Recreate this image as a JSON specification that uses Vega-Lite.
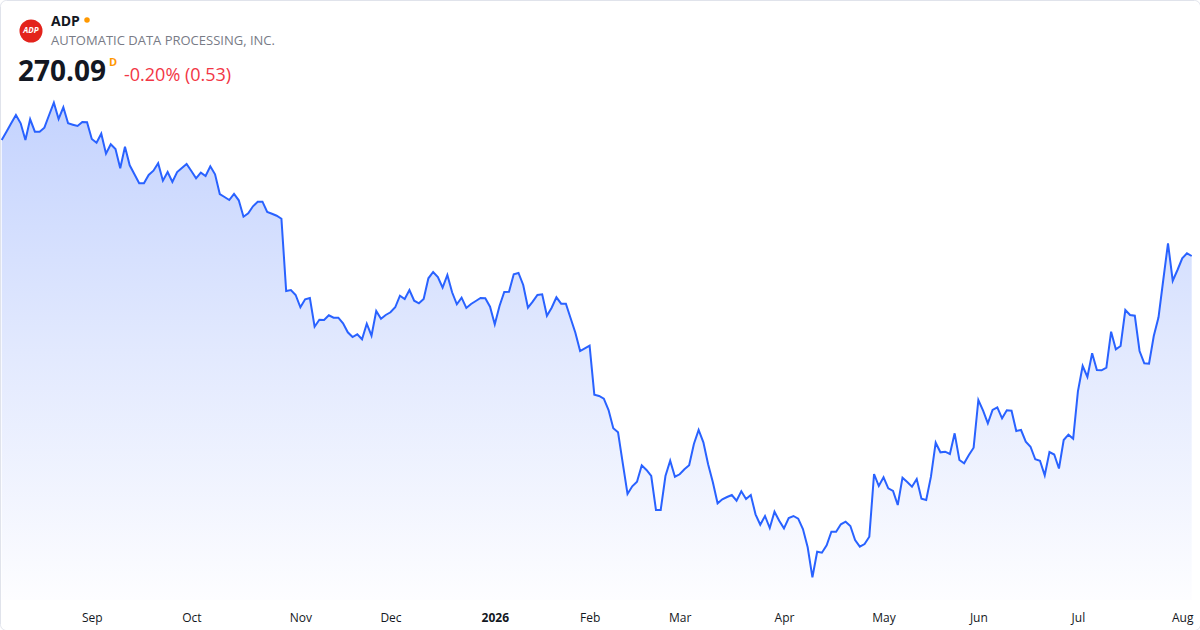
{
  "$schema": "https://vega.github.io/schema/vega-lite/v6.json",
  "width": 1200,
  "height": 630,
  "autosize": {"type": "none"},
  "padding": 0,
  "background": "#ffffff",
  "config": {
    "font": "Open Sans",
    "view": {"stroke": "#e0e3eb", "strokeWidth": 1, "cornerRadius": 6}
  },
  "data": {
    "values": [
      {"i":0,"d":"2025-08-05","p":293.29},{"i":1,"d":"2025-08-06","p":294.95},{"i":2,"d":"2025-08-07","p":296.63},{"i":3,"d":"2025-08-08","p":298.29},
      {"i":4,"d":"2025-08-11","p":296.63},{"i":5,"d":"2025-08-12","p":293.29},{"i":6,"d":"2025-08-13","p":297.43},{"i":7,"d":"2025-08-14","p":294.95},
      {"i":8,"d":"2025-08-15","p":294.95},{"i":9,"d":"2025-08-18","p":295.75},{"i":10,"d":"2025-08-19","p":298.29},{"i":11,"d":"2025-08-20","p":300.75},
      {"i":12,"d":"2025-08-21","p":297.49},{"i":13,"d":"2025-08-22","p":299.83},{"i":14,"d":"2025-08-25","p":296.63},{"i":15,"d":"2025-08-26","p":296.35},
      {"i":16,"d":"2025-08-27","p":296.09},{"i":17,"d":"2025-08-28","p":296.89},{"i":18,"d":"2025-08-29","p":296.83},
      {"i":19,"d":"2025-09-02","p":293.49},{"i":20,"d":"2025-09-03","p":292.75},{"i":21,"d":"2025-09-04","p":294.55},{"i":22,"d":"2025-09-05","p":290.55},
      {"i":23,"d":"2025-09-08","p":292.43},{"i":24,"d":"2025-09-09","p":291.49},{"i":25,"d":"2025-09-10","p":287.63},{"i":26,"d":"2025-09-11","p":291.95},
      {"i":27,"d":"2025-09-12","p":288.23},{"i":28,"d":"2025-09-15","p":286.43},{"i":29,"d":"2025-09-16","p":284.63},{"i":30,"d":"2025-09-17","p":284.63},
      {"i":31,"d":"2025-09-18","p":286.29},{"i":32,"d":"2025-09-19","p":287.15},{"i":33,"d":"2025-09-22","p":288.63},{"i":34,"d":"2025-09-23","p":285.15},
      {"i":35,"d":"2025-09-24","p":286.89},{"i":36,"d":"2025-09-25","p":284.89},{"i":37,"d":"2025-09-26","p":286.89},{"i":38,"d":"2025-09-29","p":287.69},
      {"i":39,"d":"2025-09-30","p":288.49},
      {"i":40,"d":"2025-10-01","p":287.09},{"i":41,"d":"2025-10-02","p":285.63},{"i":42,"d":"2025-10-03","p":286.75},{"i":43,"d":"2025-10-06","p":286.09},
      {"i":44,"d":"2025-10-07","p":288.03},{"i":45,"d":"2025-10-08","p":286.43},{"i":46,"d":"2025-10-09","p":282.49},{"i":47,"d":"2025-10-10","p":281.89},
      {"i":48,"d":"2025-10-13","p":281.29},{"i":49,"d":"2025-10-14","p":282.49},{"i":50,"d":"2025-10-15","p":281.23},{"i":51,"d":"2025-10-16","p":277.95},
      {"i":52,"d":"2025-10-17","p":278.63},{"i":53,"d":"2025-10-20","p":280.03},{"i":54,"d":"2025-10-21","p":280.95},{"i":55,"d":"2025-10-22","p":280.95},
      {"i":56,"d":"2025-10-23","p":278.89},{"i":57,"d":"2025-10-24","p":278.53},{"i":58,"d":"2025-10-27","p":278.15},{"i":59,"d":"2025-10-28","p":277.55},
      {"i":60,"d":"2025-10-29","p":263.09},{"i":61,"d":"2025-10-30","p":263.29},{"i":62,"d":"2025-10-31","p":262.29},
      {"i":63,"d":"2025-11-03","p":259.83},{"i":64,"d":"2025-11-04","p":261.43},{"i":65,"d":"2025-11-05","p":261.69},{"i":66,"d":"2025-11-06","p":255.95},
      {"i":67,"d":"2025-11-07","p":257.35},{"i":68,"d":"2025-11-10","p":257.29},{"i":69,"d":"2025-11-11","p":258.23},{"i":70,"d":"2025-11-12","p":257.75},
      {"i":71,"d":"2025-11-13","p":257.75},{"i":72,"d":"2025-11-14","p":256.63},{"i":73,"d":"2025-11-17","p":254.83},{"i":74,"d":"2025-11-18","p":253.89},
      {"i":75,"d":"2025-11-19","p":254.43},{"i":76,"d":"2025-11-20","p":253.43},{"i":77,"d":"2025-11-21","p":256.55},{"i":78,"d":"2025-11-24","p":254.15},
      {"i":79,"d":"2025-11-25","p":259.09},{"i":80,"d":"2025-11-26","p":257.55},{"i":81,"d":"2025-11-28","p":258.29},
      {"i":82,"d":"2025-12-01","p":258.83},{"i":83,"d":"2025-12-02","p":259.83},{"i":84,"d":"2025-12-03","p":262.15},{"i":85,"d":"2025-12-04","p":261.49},
      {"i":86,"d":"2025-12-05","p":263.29},{"i":87,"d":"2025-12-08","p":261.15},{"i":88,"d":"2025-12-09","p":260.63},{"i":89,"d":"2025-12-10","p":261.49},
      {"i":90,"d":"2025-12-11","p":265.63},{"i":91,"d":"2025-12-12","p":266.89},{"i":92,"d":"2025-12-15","p":265.89},{"i":93,"d":"2025-12-16","p":263.75},
      {"i":94,"d":"2025-12-17","p":266.29},{"i":95,"d":"2025-12-18","p":262.83},{"i":96,"d":"2025-12-19","p":260.43},{"i":97,"d":"2025-12-22","p":261.75},
      {"i":98,"d":"2025-12-23","p":259.69},{"i":99,"d":"2025-12-24","p":260.49},{"i":100,"d":"2025-12-26","p":261.09},{"i":101,"d":"2025-12-29","p":261.69},
      {"i":102,"d":"2025-12-30","p":261.63},{"i":103,"d":"2025-12-31","p":259.95},
      {"i":104,"d":"2026-01-02","p":256.43},{"i":105,"d":"2026-01-05","p":260.09},{"i":106,"d":"2026-01-06","p":262.89},{"i":107,"d":"2026-01-07","p":262.95},
      {"i":108,"d":"2026-01-08","p":266.43},{"i":109,"d":"2026-01-09","p":266.69},{"i":110,"d":"2026-01-12","p":264.29},{"i":111,"d":"2026-01-13","p":259.75},
      {"i":112,"d":"2026-01-14","p":260.95},{"i":113,"d":"2026-01-15","p":262.29},{"i":114,"d":"2026-01-16","p":262.43},{"i":115,"d":"2026-01-20","p":258.15},
      {"i":116,"d":"2026-01-21","p":259.75},{"i":117,"d":"2026-01-22","p":261.83},{"i":118,"d":"2026-01-23","p":260.55},{"i":119,"d":"2026-01-26","p":260.55},
      {"i":120,"d":"2026-01-27","p":257.63},{"i":121,"d":"2026-01-28","p":254.75},{"i":122,"d":"2026-01-29","p":251.09},{"i":123,"d":"2026-01-30","p":251.63},
      {"i":124,"d":"2026-02-02","p":252.15},{"i":125,"d":"2026-02-03","p":242.35},{"i":126,"d":"2026-02-04","p":242.09},{"i":127,"d":"2026-02-05","p":241.55},
      {"i":128,"d":"2026-02-06","p":239.29},{"i":129,"d":"2026-02-09","p":235.63},{"i":130,"d":"2026-02-10","p":234.83},{"i":131,"d":"2026-02-11","p":228.63},
      {"i":132,"d":"2026-02-12","p":222.49},{"i":133,"d":"2026-02-13","p":224.03},{"i":134,"d":"2026-02-17","p":224.95},{"i":135,"d":"2026-02-18","p":228.23},
      {"i":136,"d":"2026-02-19","p":227.29},{"i":137,"d":"2026-02-20","p":226.09},{"i":138,"d":"2026-02-23","p":219.29},{"i":139,"d":"2026-02-24","p":219.29},
      {"i":140,"d":"2026-02-25","p":226.09},{"i":141,"d":"2026-02-26","p":229.15},{"i":142,"d":"2026-02-27","p":225.95},
      {"i":143,"d":"2026-03-02","p":226.43},{"i":144,"d":"2026-03-03","p":227.43},{"i":145,"d":"2026-03-04","p":228.23},{"i":146,"d":"2026-03-05","p":232.49},
      {"i":147,"d":"2026-03-06","p":235.29},{"i":148,"d":"2026-03-09","p":232.83},{"i":149,"d":"2026-03-10","p":228.43},{"i":150,"d":"2026-03-11","p":224.83},
      {"i":151,"d":"2026-03-12","p":220.63},{"i":152,"d":"2026-03-13","p":221.43},{"i":153,"d":"2026-03-16","p":221.89},{"i":154,"d":"2026-03-17","p":222.29},
      {"i":155,"d":"2026-03-18","p":221.15},{"i":156,"d":"2026-03-19","p":223.03},{"i":157,"d":"2026-03-20","p":221.49},{"i":158,"d":"2026-03-23","p":222.29},
      {"i":159,"d":"2026-03-24","p":218.43},{"i":160,"d":"2026-03-25","p":216.35},{"i":161,"d":"2026-03-26","p":218.09},{"i":162,"d":"2026-03-27","p":215.69},
      {"i":163,"d":"2026-03-30","p":218.95},{"i":164,"d":"2026-03-31","p":217.15},
      {"i":165,"d":"2026-04-01","p":215.63},{"i":166,"d":"2026-04-02","p":217.69},{"i":167,"d":"2026-04-06","p":218.09},{"i":168,"d":"2026-04-07","p":217.55},
      {"i":169,"d":"2026-04-08","p":215.49},{"i":170,"d":"2026-04-09","p":211.83},{"i":171,"d":"2026-04-10","p":205.83},{"i":172,"d":"2026-04-13","p":210.95},
      {"i":173,"d":"2026-04-14","p":210.75},{"i":174,"d":"2026-04-15","p":212.23},{"i":175,"d":"2026-04-16","p":214.95},{"i":176,"d":"2026-04-17","p":214.95},
      {"i":177,"d":"2026-04-20","p":216.43},{"i":178,"d":"2026-04-21","p":216.95},{"i":179,"d":"2026-04-22","p":216.09},{"i":180,"d":"2026-04-23","p":213.29},
      {"i":181,"d":"2026-04-24","p":211.95},{"i":182,"d":"2026-04-27","p":212.49},{"i":183,"d":"2026-04-28","p":213.95},{"i":184,"d":"2026-04-29","p":226.49},
      {"i":185,"d":"2026-04-30","p":224.09},
      {"i":186,"d":"2026-05-01","p":225.83},{"i":187,"d":"2026-05-04","p":223.63},{"i":188,"d":"2026-05-05","p":223.09},{"i":189,"d":"2026-05-06","p":220.29},
      {"i":190,"d":"2026-05-07","p":225.75},{"i":191,"d":"2026-05-08","p":224.89},{"i":192,"d":"2026-05-11","p":223.95},{"i":193,"d":"2026-05-12","p":225.49},
      {"i":194,"d":"2026-05-13","p":221.55},{"i":195,"d":"2026-05-14","p":221.29},{"i":196,"d":"2026-05-15","p":225.95},{"i":197,"d":"2026-05-18","p":232.75},
      {"i":198,"d":"2026-05-19","p":230.83},{"i":199,"d":"2026-05-20","p":230.95},{"i":200,"d":"2026-05-21","p":230.49},{"i":201,"d":"2026-05-22","p":234.63},
      {"i":202,"d":"2026-05-26","p":229.29},{"i":203,"d":"2026-05-27","p":228.63},{"i":204,"d":"2026-05-28","p":230.29},{"i":205,"d":"2026-05-29","p":231.75},
      {"i":206,"d":"2026-06-01","p":241.29},{"i":207,"d":"2026-06-02","p":239.15},{"i":208,"d":"2026-06-03","p":236.63},{"i":209,"d":"2026-06-04","p":239.29},
      {"i":210,"d":"2026-06-05","p":239.83},{"i":211,"d":"2026-06-08","p":237.63},{"i":212,"d":"2026-06-09","p":239.23},{"i":213,"d":"2026-06-10","p":239.15},
      {"i":214,"d":"2026-06-11","p":235.09},{"i":215,"d":"2026-06-12","p":235.29},{"i":216,"d":"2026-06-15","p":232.95},{"i":217,"d":"2026-06-16","p":231.95},
      {"i":218,"d":"2026-06-17","p":229.43},{"i":219,"d":"2026-06-18","p":229.15},{"i":220,"d":"2026-06-22","p":226.23},{"i":221,"d":"2026-06-23","p":230.89},
      {"i":222,"d":"2026-06-24","p":230.39},{"i":223,"d":"2026-06-25","p":227.59},{"i":224,"d":"2026-06-26","p":233.29},{"i":225,"d":"2026-06-29","p":234.35},
      {"i":226,"d":"2026-06-30","p":233.55},
      {"i":227,"d":"2026-07-01","p":243.03},{"i":228,"d":"2026-07-02","p":248.09},{"i":229,"d":"2026-07-06","p":245.89},{"i":230,"d":"2026-07-07","p":250.63},
      {"i":231,"d":"2026-07-08","p":247.29},{"i":232,"d":"2026-07-09","p":247.23},{"i":233,"d":"2026-07-10","p":247.75},{"i":234,"d":"2026-07-13","p":254.95},
      {"i":235,"d":"2026-07-14","p":251.43},{"i":236,"d":"2026-07-15","p":252.09},{"i":237,"d":"2026-07-16","p":259.29},{"i":238,"d":"2026-07-17","p":258.29},
      {"i":239,"d":"2026-07-20","p":258.15},{"i":240,"d":"2026-07-21","p":251.09},{"i":241,"d":"2026-07-22","p":248.63},{"i":242,"d":"2026-07-23","p":248.55},
      {"i":243,"d":"2026-07-24","p":254.09},{"i":244,"d":"2026-07-27","p":257.83},{"i":245,"d":"2026-07-28","p":265.29},{"i":246,"d":"2026-07-29","p":272.63},
      {"i":247,"d":"2026-07-30","p":265.15},{"i":248,"d":"2026-07-31","p":267.29},
      {"i":249,"d":"2026-08-03","p":269.63},{"i":250,"d":"2026-08-04","p":270.62},{"i":251,"d":"2026-08-05","p":270.09}
    ]
  },
  "layer": [
    {
      "mark": {
        "type": "area",
        "interpolate": "linear",
        "clip": true,
        "opacity": 1,
        "fill": {
          "gradient": "linear",
          "x1": 0, "y1": 0, "x2": 0, "y2": 1,
          "stops": [
            {"offset": 0, "color": "#c4d3fe"},
            {"offset": 0.5, "color": "#e2e9fe"},
            {"offset": 1, "color": "#fdfdff"}
          ]
        },
        "line": {"color": "#2962ff", "strokeWidth": 2}
      },
      "encoding": {
        "x": {
          "field": "i",
          "type": "quantitative",
          "scale": {"domain": [-0.36, 252.75], "nice": false, "zero": false},
          "axis": {
            "title": null,
            "orient": "bottom",
            "offset": -30,
            "values": [19, 40, 63, 82, 104, 124, 143, 165, 186, 206, 227, 249],
            "labelExpr": "['Sep','Oct','Nov','Dec','2026','Feb','Mar','Apr','May','Jun','Jul','Aug'][indexof([19,40,63,82,104,124,143,165,186,206,227,249], datum.value)]",
            "labelFontWeight": {"condition": {"test": "datum.value == 104", "value": "bold"}, "value": "normal"},
            "labelFont": "Open Sans",
            "labelFontSize": 12,
            "labelColor": "#131722",
            "labelPadding": 12,
            "labelFlush": false,
            "labelOverlap": false,
            "domain": false,
            "ticks": false,
            "tickSize": 0,
            "grid": false
          }
        },
        "y": {
          "field": "p",
          "type": "quantitative",
          "scale": {"domain": [195.29, 321.29], "nice": false, "zero": false},
          "axis": null
        },
        "y2": {"datum": 201.29}
      }
    },
    {
      "data": {"values": [{}]},
      "mark": {"type": "point", "filled": true, "size": 530, "color": "#e3231c", "opacity": 1},
      "encoding": {"x": {"value": 31}, "y": {"value": 31}}
    },
    {
      "data": {"values": [{}]},
      "mark": {"type": "text", "font": "Open Sans", "fontSize": 8, "fontWeight": "bold", "fontStyle": "italic", "color": "#ffffff", "align": "center", "baseline": "middle"},
      "encoding": {"x": {"value": 31}, "y": {"value": 31}, "text": {"value": "ADP"}}
    },
    {
      "data": {"values": [{}]},
      "mark": {"type": "text", "font": "Open Sans", "fontSize": 14, "fontWeight": "bold", "color": "#131722", "align": "left", "baseline": "alphabetic"},
      "encoding": {"x": {"value": 51}, "y": {"value": 26}, "text": {"value": "ADP"}}
    },
    {
      "data": {"values": [{}]},
      "mark": {"type": "point", "filled": true, "size": 30, "color": "#ff9800", "opacity": 1},
      "encoding": {"x": {"value": 87}, "y": {"value": 20}}
    },
    {
      "data": {"values": [{}]},
      "mark": {"type": "text", "font": "Open Sans", "fontSize": 13, "color": "#787b86", "align": "left", "baseline": "alphabetic"},
      "encoding": {"x": {"value": 51}, "y": {"value": 45}, "text": {"value": "AUTOMATIC DATA PROCESSING, INC."}}
    },
    {
      "data": {"values": [{}]},
      "mark": {"type": "text", "font": "Open Sans", "fontSize": 28, "fontWeight": "bold", "color": "#131722", "align": "left", "baseline": "alphabetic"},
      "encoding": {"x": {"value": 18}, "y": {"value": 81}, "text": {"value": "270.09"}}
    },
    {
      "data": {"values": [{}]},
      "mark": {"type": "text", "font": "Open Sans", "fontSize": 11, "fontWeight": "bold", "color": "#ff9800", "align": "left", "baseline": "alphabetic"},
      "encoding": {"x": {"value": 109}, "y": {"value": 66}, "text": {"value": "D"}}
    },
    {
      "data": {"values": [{}]},
      "mark": {"type": "text", "font": "Open Sans", "fontSize": 18, "color": "#f23645", "align": "left", "baseline": "alphabetic"},
      "encoding": {"x": {"value": 124}, "y": {"value": 81}, "text": {"value": "-0.20% (0.53)"}}
    }
  ]
}
